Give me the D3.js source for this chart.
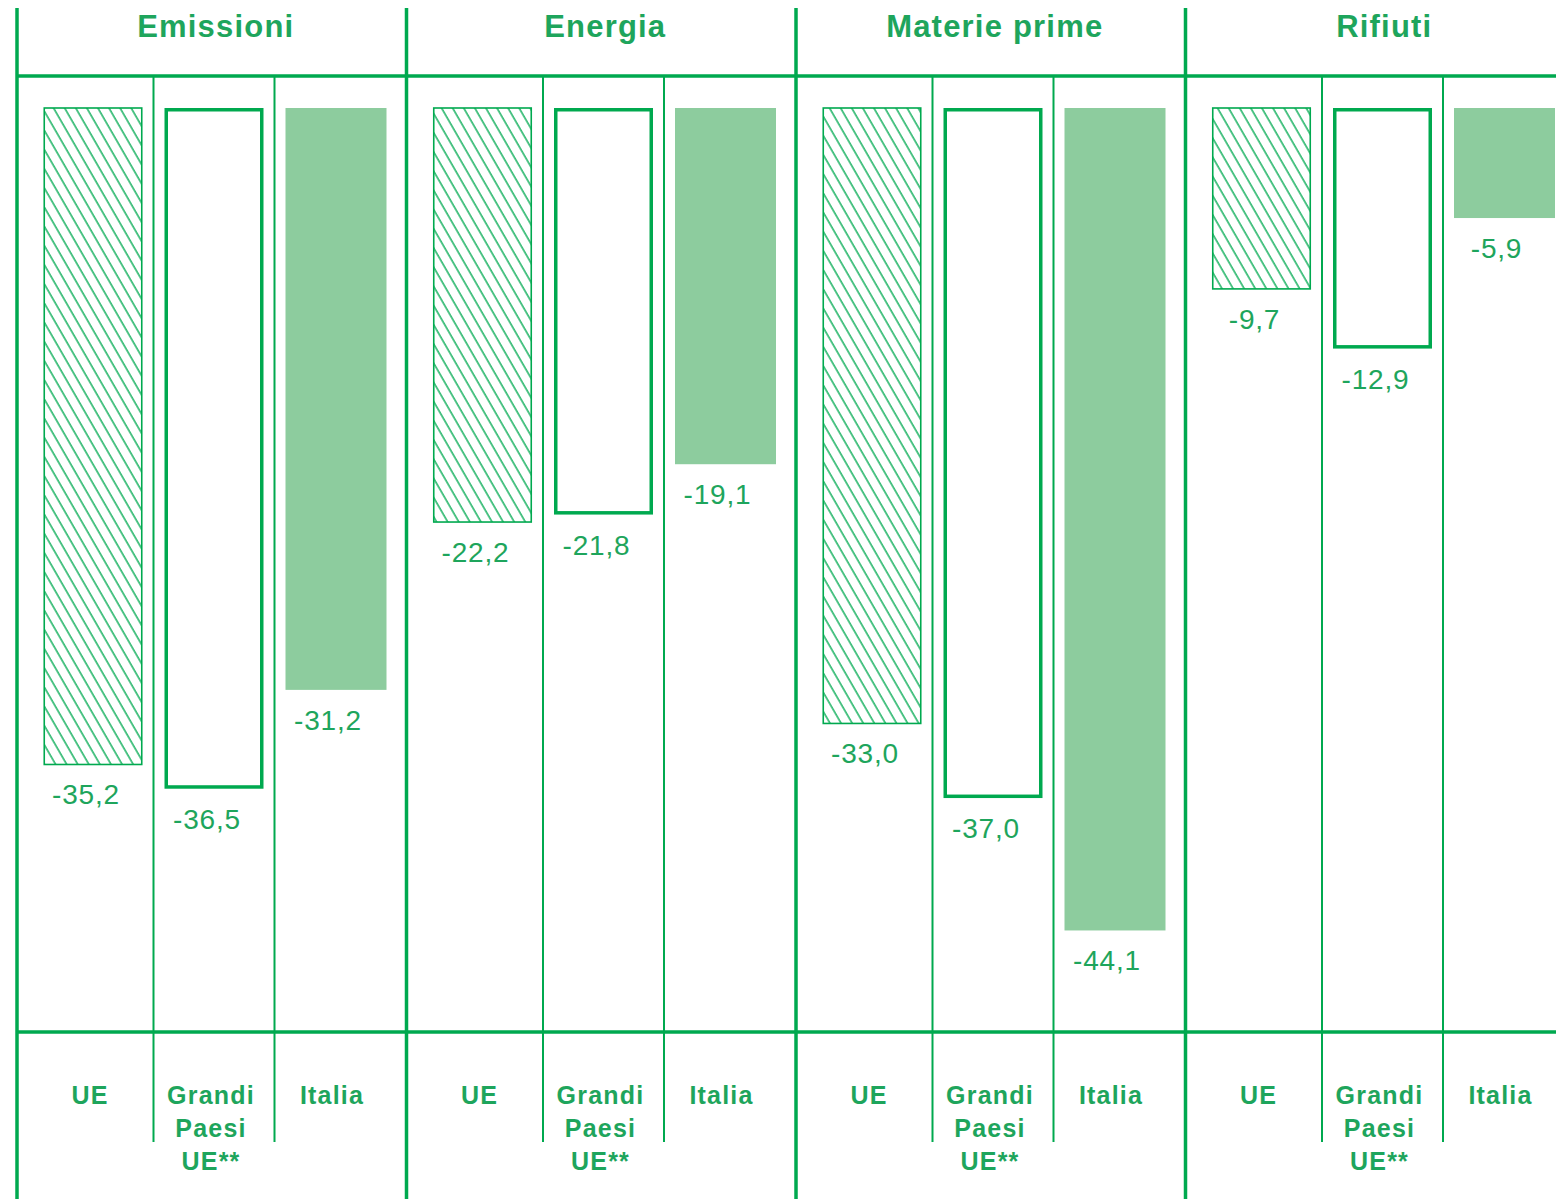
<!DOCTYPE html>
<html><head><meta charset="utf-8">
<script src="https://cdn.jsdelivr.net/npm/d3@7"></script>
<style>
body{margin:0;background:#fff;}
svg{display:block;font-family:"Liberation Sans",Arial,sans-serif;}
</style></head>
<body>
<svg id="chart" width="1556" height="1199"></svg>
<script>
const groups = ["Emissioni", "Energia", "Materie prime", "Rifiuti"];
const series = ["UE", "Grandi Paesi UE**", "Italia"];
const seriesLines = [["UE"], ["Grandi", "Paesi", "UE**"], ["Italia"]];
const valuesUE = [-35.2, -22.2, -33.0, -9.7];
const valuesGrandi = [-36.5, -21.8, -37.0, -12.9];
const valuesItalia = [-31.2, -19.1, -44.1, -5.9];

const GREEN = "#00a94f", TEXT = "#1ea55c", LIGHT = "#8dcc9e";
const svg = d3.select("#chart");
const W = 1556, H = 1199;

const defs = svg.append("defs");
const pat = defs.append("pattern").attr("id", "hatch")
  .attr("patternUnits", "userSpaceOnUse").attr("width", 9.6).attr("height", 20)
  .attr("patternTransform", "rotate(-30)");
pat.append("line").attr("x1", 2).attr("x2", 2).attr("y1", 0).attr("y2", 20)
  .attr("stroke", GREEN).attr("stroke-width", 1.6).attr("opacity", 0.85);

const x0 = d3.scaleBand().domain(groups).range([16, 16 + 4 * 389.5]);
const x1 = d3.scaleBand().domain(series).range([27.5, 368.5]).paddingInner(22 / 121);
const y = d3.scaleLinear().domain([0, -50]).range([108, 108 + 50 * 18.65]);

const data = [];
groups.forEach((g, i) => {
  [valuesUE, valuesGrandi, valuesItalia].forEach((arr, j) => {
    data.push({ g, s: series[j], j, v: arr[i] });
  });
});

const yTop = 76, yBot = 1032;
[yTop, yBot].forEach(yy => {
  svg.append("line").attr("x1", 17).attr("x2", W).attr("y1", yy).attr("y2", yy)
    .attr("stroke", GREEN).attr("stroke-width", 3.5);
});
groups.forEach(g => {
  for (let k = 0; k < 2; k++) {
    const a = x1(series[k]) + x1.bandwidth(), b = x1(series[k + 1]);
    const xx = x0(g) + (a + b) / 2;
    svg.append("line").attr("x1", xx).attr("x2", xx).attr("y1", yTop).attr("y2", 1142)
      .attr("stroke", GREEN).attr("stroke-width", 2);
  }
});
groups.forEach(g => {
  const xx = x0(g) + 1;
  svg.append("line").attr("x1", xx).attr("x2", xx).attr("y1", 8).attr("y2", H)
    .attr("stroke", GREEN).attr("stroke-width", 3.5);
});

svg.selectAll("text.title").data(groups).join("text").attr("class", "title")
  .attr("x", g => x0(g) + x0.bandwidth() / 2 + 5).attr("y", 37)
  .attr("text-anchor", "middle").attr("font-size", 31).attr("font-weight", "bold")
  .attr("letter-spacing", 1.2)
  .attr("fill", TEXT).text(g => g);

const bars = svg.append("g");
data.forEach(d => {
  const bx = x0(d.g) + x1(d.s), bw = x1.bandwidth();
  const top = y(0), bot = y(d.v);
  if (d.j === 0) {
    bars.append("rect").attr("x", bx + 0.75).attr("y", top).attr("width", bw - 1.5).attr("height", bot - top)
      .attr("fill", "url(#hatch)").attr("stroke", GREEN).attr("stroke-width", 1.6);
  } else if (d.j === 1) {
    bars.append("rect").attr("x", bx + 1.75).attr("y", top + 1.75).attr("width", bw - 3.5).attr("height", bot - top - 3.5)
      .attr("fill", "none").attr("stroke", GREEN).attr("stroke-width", 3.5);
  } else {
    bars.append("rect").attr("x", bx).attr("y", top).attr("width", bw + 2).attr("height", bot - top)
      .attr("fill", LIGHT);
  }
  svg.append("text").attr("x", bx + bw / 2 - 7).attr("y", bot + 40)
    .attr("text-anchor", "middle").attr("font-size", 28).attr("fill", TEXT)
    .attr("letter-spacing", 0.8)
    .text(d3.format(".1f")(d.v).replace("\u2212", "-").replace(".", ","));
});

groups.forEach(g => {
  series.forEach((s, j) => {
    const cx = x0(g) + x1(s) + x1.bandwidth() / 2 - 3;
    const t = svg.append("text").attr("x", cx)
      .attr("text-anchor", "middle").attr("font-size", 25).attr("font-weight", "bold")
      .attr("letter-spacing", 1.2)
      .attr("fill", TEXT);
    seriesLines[j].forEach((ln, k) => {
      t.append("tspan").attr("x", cx).attr("y", 1104 + k * 33).text(ln);
    });
  });
});
</script>
</body></html>
